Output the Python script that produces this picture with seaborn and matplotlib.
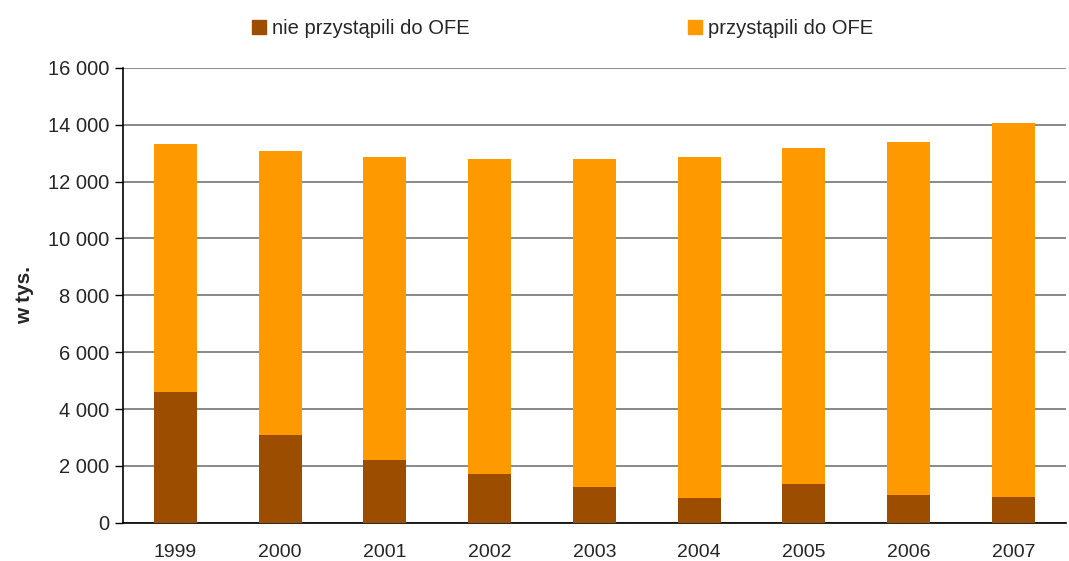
import numpy as np
import pandas as pd
import matplotlib
matplotlib.use("Agg")
import matplotlib.pyplot as plt
from matplotlib.ticker import FuncFormatter, FixedLocator
from matplotlib.patches import Patch
import seaborn as sns

years = ["1999", "2000", "2001", "2002", "2003", "2004", "2005", "2006", "2007"]
nie_ofe = [4590, 3100, 2220, 1730, 1270, 880, 1370, 990, 920]
razem = [13310, 13060, 12850, 12780, 12780, 12850, 13170, 13380, 14050]
ofe = [t - n for t, n in zip(razem, nie_ofe)]

df = pd.DataFrame({"rok": years, "nie": nie_ofe, "ofe": ofe, "razem": razem})

sns.set_style("white")
plt.rcParams["font.family"] = ["Liberation Sans", "DejaVu Sans"]

brown = "#9C4D00"
orange = "#FF9900"

fig = plt.figure(figsize=(10.69, 5.61), dpi=100)
ax = fig.add_axes([0.115, 0.068, 0.882, 0.811])

# stacked bars: total first (orange), then brown part on top of it
sns.barplot(data=df, x="rok", y="razem", color=orange, width=0.41,
            saturation=1, linewidth=0, ax=ax, zorder=3)
sns.barplot(data=df, x="rok", y="nie", color=brown, width=0.41,
            saturation=1, linewidth=0, ax=ax, zorder=3)

ax.set_ylim(0, 16000)
ax.set_xlim(-0.5, 8.5)
ax.set_yticks(np.arange(0, 16001, 2000))
ax.yaxis.set_major_formatter(FuncFormatter(lambda v, p: f"{int(v):,}".replace(",", " ")))
ax.yaxis.grid(True, color="#7f7f7f", linewidth=1.3, zorder=0)
ax.set_axisbelow(True)

ax.xaxis.set_minor_locator(FixedLocator(np.arange(-0.5, 9, 1)))
ax.tick_params(axis="x", which="major", length=0, pad=15, labelsize=14)
ax.tick_params(axis="x", which="minor", length=6, width=1, direction="out", color="black")
ax.tick_params(axis="y", length=6, width=1, direction="out", color="black",
               labelsize=14.5, left=True, pad=4)

ax.set_xlabel("")
ax.set_ylabel("w tys.", fontsize=15, fontweight="bold", labelpad=10)

for s in ["top", "right"]:
    ax.spines[s].set_visible(False)
for s in ["left", "bottom"]:
    ax.spines[s].set_color("black")
    ax.spines[s].set_linewidth(1.2)

handles = [Patch(color=brown, label="nie przystąpili do OFE"),
           Patch(color=orange, label="przystąpili do OFE")]
fig.legend(handles=handles, loc="upper center", bbox_to_anchor=(0.526, 0.998),
           ncol=2, frameon=False, fontsize=14.5, columnspacing=10.85,
           handlelength=0.7, handleheight=0.65, handletextpad=0.3)

fig.savefig("out.png", dpi=100)
